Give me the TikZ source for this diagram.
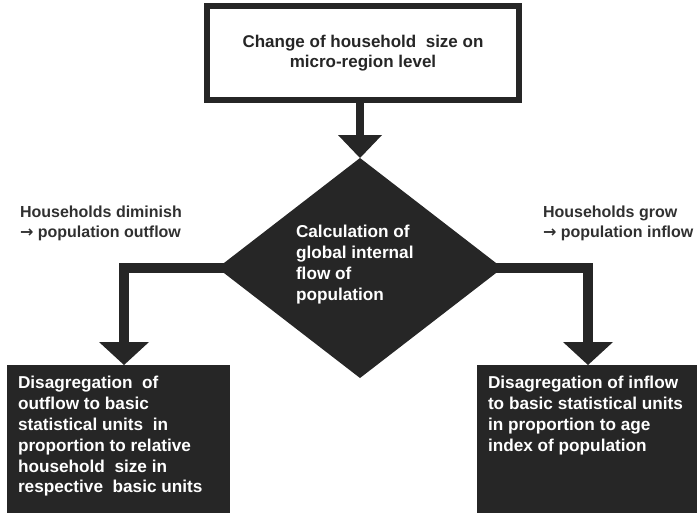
\documentclass[tikz,border=0pt]{standalone}
\usepackage{fontspec}
\setmainfont{Liberation Sans}
\newfontfamily\arrfont{DejaVu Sans}
\usetikzlibrary{arrows.meta,shapes.geometric}
\definecolor{dark}{HTML}{262626}
\definecolor{lbl}{HTML}{303030}
\newcommand{\rarr}{{\arrfont\bfseries →}}
\tikzset{
  boxtxt/.style={font=\bfseries\fontsize{17.2}{20.8}\selectfont, align=left, inner sep=0pt, outer sep=0pt},
  darkbox/.style={fill=dark, draw=none, inner sep=0pt, outer sep=0pt},
  sideconn/.style={draw=dark, line width=10pt, -{Triangle[width=50pt,length=23pt,line width=0pt]}},
  topconn/.style={draw=dark, line width=8pt, -{Triangle[width=44pt,length=23pt,line width=0pt]}},
  lab/.style={font=\bfseries\fontsize{16}{20}\selectfont, text=lbl, align=left, inner sep=0pt, outer sep=0pt, anchor=north west}
}
\begin{document}
\begin{tikzpicture}[x=1pt,y=-1pt]
\useasboundingbox (0,0) rectangle (698,515);
% top box
\node[draw=dark, line width=6pt, fill=white, minimum width=312pt, minimum height=94pt, inner sep=0pt, outer sep=0pt,
      font=\bfseries\fontsize{17}{20}\selectfont, text=dark, align=center] (top) at (363,53)
      {Change of household\ \ size on\\micro-region level};
% diamond
\node[diamond, darkbox, minimum width=285pt, minimum height=220pt] (dia) at (360,268) {};
\node[boxtxt, text=white, anchor=north west] (diatxt) at (296,225.5)
  {Calculation of\\global internal\\flow of\\population};
% bottom boxes
\node[darkbox, minimum width=223pt, minimum height=148pt] (lbox) at (118.5,439) {};
\node[darkbox, minimum width=220pt, minimum height=148pt] (rbox) at (587,439) {};
\node[boxtxt, text=white, anchor=north west] (ltxt) at (18,376.5)
  {Disagregation\ \ of\\outflow to basic\\statistical units\ \ in\\proportion to relative\\household\ \ size in\\respective\ \ basic units};
\node[boxtxt, text=white, anchor=north west] (rtxt) at (488,376.5)
  {Disagregation of inflow\\to basic statistical units\\in proportion to age\\index of population};
% side labels
\node[lab] (llab) at (20,206) {Households diminish\\\rarr{} population outflow};
\node[lab] (rlab) at (543,206) {Households grow\\\rarr{} population inflow};
% connectors
\coordinate (lturn) at (124,268);
\coordinate (rturn) at (588,268);
\draw[topconn] (top.south -| dia.north) -- (dia.north);
\draw[sideconn] ([xshift=8pt]dia.west) -- (lturn) -- (lturn |- lbox.north);
\draw[sideconn] ([xshift=-8pt]dia.east) -- (rturn) -- (rturn |- rbox.north);
\end{tikzpicture}
\end{document}
